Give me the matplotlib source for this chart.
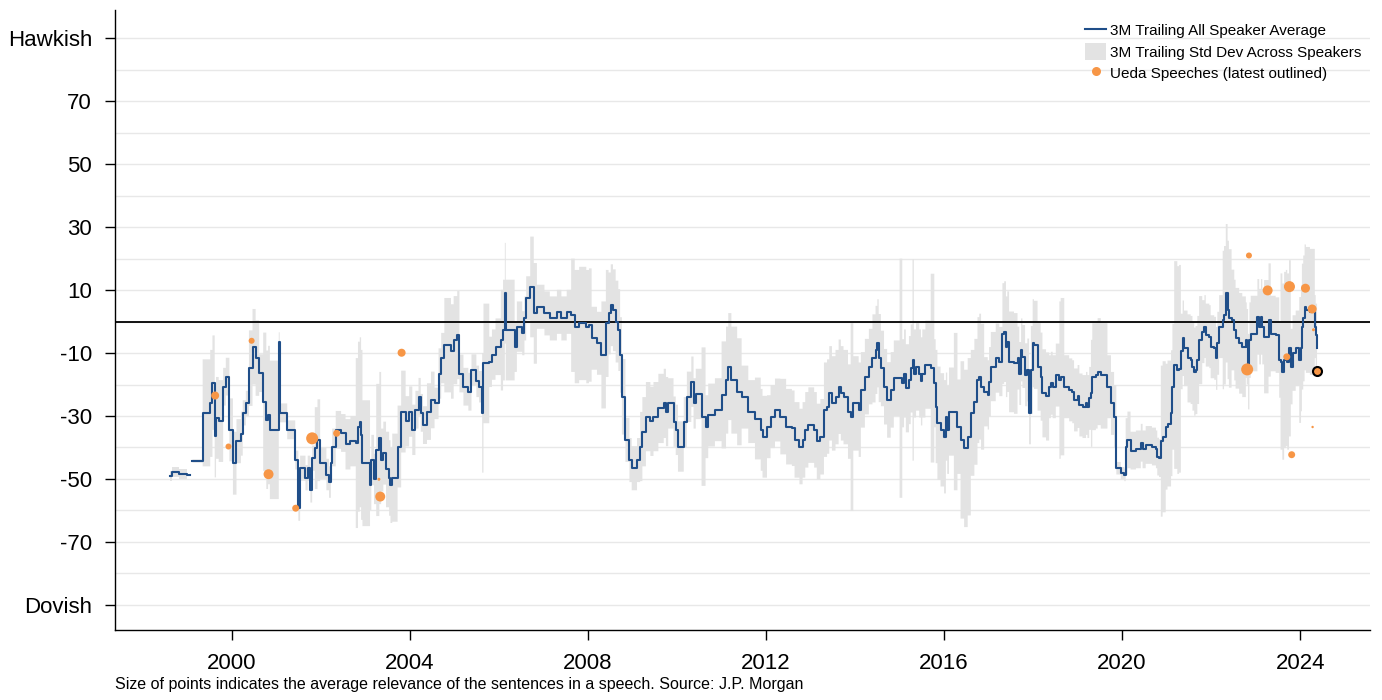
import numpy as np
import matplotlib
matplotlib.use("Agg")
import matplotlib.pyplot as plt
from matplotlib.lines import Line2D
from matplotlib.patches import Patch

# ── Data ────────────────────────────────────────────────────────────────────
# 3M trailing all-speaker average: (decimal year, average score, std dev across speakers)
# a NaN row separates the short 1998 stub from the main series
trailing = [
    (1998.61, -49.0, 1.5), (1998.65, -47.8, 1.5), (1998.80, -48.4, 1.5),
    (1998.90, -48.4, 1.5), (1998.99, -48.7, 1.5), (1999.05, np.nan, np.nan),
    (1999.11, -44.3, 0.5), (1999.34, -29.0, 17), (1999.51, -26.0, 17),
    (1999.56, -19.4, 15), (1999.61, -36.5, 13), (1999.64, -30.6, 13),
    (1999.70, -31.6, 13), (1999.80, -20.7, 6), (1999.86, -17.5, 6),
    (1999.94, -34.4, 10), (2000.02, -45.0, 10), (2000.10, -38.0, 7),
    (2000.20, -35.6, 7), (2000.24, -29.0, 4), (2000.31, -26.0, 4),
    (2000.38, -14.8, 12), (2000.46, -8.0, 12), (2000.53, -11.6, 12),
    (2000.61, -16.4, 6), (2000.70, -25.5, 22), (2000.77, -31.2, 22),
    (2000.81, -29.7, 22), (2000.85, -34.4, 22), (2001.05, -6.4, 3),
    (2001.07, -29.0, 3), (2001.24, -34.4, 3), (2001.42, -44.0, 3),
    (2001.49, -59.3, 4), (2001.53, -46.6, 4), (2001.65, -49.6, 4),
    (2001.70, -46.6, 4), (2001.76, -53.5, 4), (2001.80, -43.4, 4),
    (2001.86, -40.2, 13), (2001.92, -37.7, 13), (2001.98, -45.0, 5),
    (2002.12, -48.6, 5), (2002.18, -51.0, 5), (2002.22, -45.0, 5),
    (2002.25, -40.0, 6), (2002.33, -34.4, 6), (2002.45, -35.4, 6),
    (2002.55, -39.0, 8), (2002.66, -38.0, 8), (2002.78, -38.6, 27),
    (2002.83, -33.4, 27), (2002.87, -32.0, 27), (2002.90, -36.0, 27),
    (2002.93, -45.0, 20), (2003.10, -51.9, 8), (2003.13, -44.0, 8),
    (2003.19, -50.0, 8), (2003.24, -40.8, 21), (2003.31, -37.0, 21),
    (2003.35, -44.0, 10), (2003.40, -41.8, 10), (2003.46, -47.0, 12),
    (2003.53, -49.7, 12), (2003.56, -52.0, 12), (2003.60, -49.6, 14),
    (2003.72, -39.7, 13), (2003.80, -28.6, 13), (2003.90, -31.7, 8),
    (2003.98, -28.6, 8), (2004.05, -34.4, 8), (2004.12, -28.0, 6),
    (2004.19, -23.9, 6), (2004.24, -29.0, 6), (2004.29, -32.9, 6),
    (2004.38, -28.6, 9), (2004.47, -24.9, 9), (2004.55, -26.0, 5),
    (2004.64, -16.5, 8), (2004.70, -11.6, 8), (2004.77, -7.5, 15),
    (2004.92, -9.5, 15), (2004.98, -5.9, 14), (2005.06, -4.3, 14),
    (2005.11, -16.5, 6), (2005.20, -20.7, 6), (2005.31, -22.3, 6),
    (2005.38, -15.4, 5), (2005.49, -19.0, 5), (2005.55, -20.7, 5),
    (2005.62, -29.0, 19), (2005.65, -13.3, 19), (2005.78, -12.8, 8),
    (2005.84, -10.5, 8), (2005.92, -8.0, 9), (2006.04, -5.9, 16),
    (2006.09, -2.7, 16), (2006.13, 9.0, 16), (2006.15, -2.7, 16),
    (2006.35, -8.0, 8), (2006.40, -1.6, 8), (2006.52, -3.7, 7),
    (2006.57, 1.0, 7), (2006.61, 7.4, 7), (2006.70, 11.0, 16),
    (2006.78, 2.6, 16), (2006.85, 4.7, 7), (2007.02, 2.6, 7),
    (2007.14, 1.0, 7), (2007.30, 3.1, 7), (2007.40, 1.0, 7),
    (2007.52, 3.1, 7), (2007.62, 2.0, 18), (2007.70, -1.6, 18),
    (2007.80, -0.6, 18), (2007.96, -1.6, 18), (2008.02, -1.1, 18),
    (2008.08, -5.3, 10), (2008.20, -6.9, 10), (2008.30, -10.6, 17),
    (2008.40, -0.6, 17), (2008.46, 2.6, 13), (2008.51, 5.2, 13),
    (2008.56, 3.6, 13), (2008.62, 0.0, 13), (2008.68, -2.7, 13),
    (2008.72, -10.6, 12), (2008.76, -23.9, 12), (2008.84, -37.6, 7),
    (2008.93, -44.0, 7), (2008.98, -46.6, 7), (2009.10, -44.0, 7),
    (2009.17, -39.7, 11), (2009.22, -35.0, 11), (2009.30, -30.2, 11),
    (2009.40, -31.7, 11), (2009.47, -30.2, 11), (2009.58, -27.6, 11),
    (2009.70, -26.0, 11), (2009.75, -28.6, 11), (2009.80, -26.0, 8),
    (2009.92, -31.8, 8), (2009.97, -34.4, 8), (2010.02, -39.7, 8),
    (2010.15, -32.0, 8), (2010.22, -23.9, 8), (2010.32, -19.1, 8),
    (2010.37, -26.0, 8), (2010.42, -23.0, 8), (2010.55, -30.2, 22),
    (2010.64, -33.4, 10), (2010.70, -29.7, 10), (2010.85, -28.0, 10),
    (2011.00, -23.3, 17), (2011.10, -18.6, 17), (2011.15, -14.3, 17),
    (2011.22, -18.6, 17), (2011.35, -22.3, 17), (2011.45, -24.0, 10),
    (2011.60, -28.6, 10), (2011.75, -30.8, 13), (2011.88, -34.4, 13),
    (2011.92, -36.6, 13), (2012.02, -33.4, 10), (2012.10, -30.2, 10),
    (2012.20, -28.1, 10), (2012.32, -30.2, 12), (2012.45, -33.4, 12),
    (2012.58, -33.9, 12), (2012.64, -37.6, 12), (2012.75, -39.7, 12),
    (2012.82, -37.6, 12), (2012.88, -34.4, 12), (2012.95, -32.9, 12),
    (2013.08, -34.4, 12), (2013.14, -38.1, 12), (2013.22, -36.6, 12),
    (2013.30, -28.0, 15), (2013.37, -27.0, 15), (2013.42, -22.8, 15),
    (2013.48, -26.0, 15), (2013.56, -24.0, 15), (2013.63, -20.7, 15),
    (2013.68, -22.8, 15), (2013.74, -24.0, 15), (2013.84, -28.6, 15),
    (2013.90, -30.2, 30), (2013.96, -26.0, 15), (2014.08, -28.0, 15),
    (2014.13, -21.7, 12), (2014.22, -17.5, 12), (2014.31, -14.3, 12),
    (2014.39, -11.7, 14), (2014.46, -9.0, 14), (2014.50, -6.9, 14),
    (2014.53, -11.6, 14), (2014.58, -14.9, 12), (2014.65, -20.7, 12),
    (2014.72, -24.9, 12), (2014.80, -21.7, 12), (2014.87, -18.0, 12),
    (2015.00, -18.0, 38), (2015.06, -19.6, 14), (2015.10, -16.5, 14),
    (2015.14, -21.2, 14), (2015.21, -18.6, 14), (2015.25, -14.9, 14),
    (2015.29, -12.2, 32), (2015.32, -16.5, 14), (2015.37, -14.3, 14),
    (2015.44, -16.5, 14), (2015.48, -19.0, 14), (2015.51, -16.5, 14),
    (2015.58, -13.7, 14), (2015.70, -14.8, 30), (2015.78, -19.6, 14),
    (2015.81, -27.0, 18), (2015.85, -32.3, 18), (2015.92, -34.4, 18),
    (2016.00, -36.6, 18), (2016.04, -30.2, 14), (2016.07, -34.4, 14),
    (2016.11, -28.6, 14), (2016.22, -28.6, 25), (2016.30, -33.4, 15),
    (2016.37, -37.6, 25), (2016.45, -40.3, 25), (2016.53, -36.6, 25),
    (2016.60, -29.0, 20), (2016.68, -25.5, 20), (2016.75, -18.6, 20),
    (2016.79, -17.5, 20), (2016.83, -20.7, 20), (2016.90, -22.3, 11),
    (2016.98, -23.3, 11), (2017.01, -19.1, 11), (2017.05, -14.3, 11),
    (2017.16, -11.6, 11), (2017.24, -12.7, 11), (2017.31, -3.8, 16),
    (2017.35, -3.2, 16), (2017.39, -8.0, 16), (2017.42, -6.4, 16),
    (2017.46, -12.8, 16), (2017.57, -13.3, 16), (2017.65, -11.6, 10),
    (2017.69, -16.5, 10), (2017.73, -9.0, 10), (2017.76, -11.1, 10),
    (2017.82, -16.9, 10), (2017.87, -15.4, 10), (2017.91, -29.0, 10),
    (2017.95, -15.4, 14), (2017.99, -6.9, 14), (2018.02, -7.4, 14),
    (2018.10, -14.3, 14), (2018.17, -17.5, 14), (2018.21, -22.8, 14),
    (2018.29, -23.8, 14), (2018.36, -20.7, 10), (2018.40, -19.6, 10),
    (2018.44, -20.7, 10), (2018.51, -17.0, 10), (2018.59, -18.6, 25),
    (2018.62, -17.5, 25), (2018.70, -20.7, 10), (2018.81, -21.7, 10),
    (2018.88, -22.3, 10), (2018.92, -24.9, 10), (2019.00, -23.8, 10),
    (2019.04, -26.5, 10), (2019.11, -27.0, 10), (2019.19, -26.0, 10),
    (2019.22, -27.0, 10), (2019.26, -24.4, 10), (2019.30, -22.8, 17),
    (2019.33, -17.5, 17), (2019.41, -17.0, 17), (2019.45, -15.9, 17),
    (2019.52, -17.0, 17), (2019.60, -17.0, 17), (2019.67, -20.7, 10),
    (2019.75, -26.0, 10), (2019.82, -30.2, 10), (2019.87, -46.6, 2),
    (2019.97, -48.2, 2), (2020.05, -48.7, 2), (2020.08, -39.7, 9),
    (2020.12, -37.6, 9), (2020.19, -41.0, 6), (2020.31, -40.6, 6),
    (2020.42, -38.5, 6), (2020.46, -40.6, 6), (2020.53, -39.2, 6),
    (2020.67, -39.7, 6), (2020.76, -40.6, 6), (2020.79, -42.9, 6),
    (2020.83, -43.4, 6), (2020.87, -38.0, 24), (2020.91, -36.6, 24),
    (2020.98, -33.4, 20), (2021.02, -32.4, 20), (2021.10, -29.1, 20),
    (2021.13, -20.7, 20), (2021.17, -13.8, 33), (2021.24, -15.4, 33),
    (2021.28, -15.0, 33), (2021.32, -9.5, 12), (2021.36, -5.3, 12),
    (2021.39, -8.5, 12), (2021.47, -11.7, 14), (2021.54, -12.2, 14),
    (2021.58, -14.3, 14), (2021.62, -15.9, 14), (2021.65, -15.4, 14),
    (2021.69, -12.2, 14), (2021.73, -5.9, 14), (2021.80, -3.2, 10),
    (2021.85, -1.6, 10), (2021.88, -4.3, 10), (2021.96, -4.8, 10),
    (2021.99, -8.0, 10), (2022.07, -8.5, 10), (2022.11, -11.7, 10),
    (2022.14, -6.9, 10), (2022.18, -1.6, 10), (2022.26, 0.5, 22),
    (2022.29, 2.0, 22), (2022.33, 9.0, 22), (2022.37, 3.7, 22),
    (2022.40, 1.0, 22), (2022.46, 0.5, 16), (2022.52, -2.7, 16),
    (2022.55, -5.3, 16), (2022.63, -6.9, 16), (2022.70, -8.0, 16),
    (2022.78, -5.9, 12), (2022.80, -8.0, 12), (2022.83, -15.9, 12),
    (2022.86, -5.9, 12), (2022.89, -3.8, 12), (2023.00, -3.8, 12),
    (2023.04, 1.5, 12), (2023.08, -1.6, 12), (2023.12, 1.5, 12),
    (2023.15, -1.6, 12), (2023.19, -4.8, 18), (2023.27, -4.8, 18),
    (2023.29, 0.5, 18), (2023.34, -3.8, 12), (2023.45, -4.3, 12),
    (2023.53, -12.2, 12), (2023.56, -12.7, 28), (2023.60, -15.9, 28),
    (2023.64, -12.2, 28), (2023.68, -11.6, 28), (2023.71, -12.7, 28),
    (2023.75, -8.5, 28), (2023.79, -14.3, 12), (2023.83, -10.0, 12),
    (2023.90, -8.5, 12), (2023.98, -12.2, 20), (2024.02, -8.5, 20),
    (2024.04, -1.6, 20), (2024.07, 1.0, 20), (2024.10, 4.5, 20),
    (2024.13, 3.7, 20), (2024.22, 3.1, 20), (2024.29, 3.1, 20),
    (2024.33, -1.6, 10), (2024.35, -4.3, 10), (2024.38, -8.5, 10),
]
years   = np.array([r[0] for r in trailing])
avg     = np.array([r[1] for r in trailing])
std_dev = np.array([r[2] for r in trailing])

# Ueda speeches: date, score, relevance (0..1, drives dot size)
ueda_year      = [1999.62, 1999.92, 2000.44, 2000.82, 2001.43, 2001.80, 2002.35,
                  2003.30, 2003.33, 2003.81, 2022.81, 2022.85, 2023.27, 2023.70,
                  2023.76, 2023.81, 2024.12, 2024.27, 2024.28, 2024.30, 2024.37]
ueda_score     = [-23.5, -39.7, -6.1, -48.5, -59.3, -37.1, -35.5,
                  -50.1, -55.6, -9.9, -15.2, 21.0, 9.9, -11.2,
                  11.1, -42.3, 10.6, 4.0, -33.5, -2.6, -15.8]
ueda_relevance = [0.67, 0.50, 0.50, 0.83, 0.58, 1.00, 0.58,
                  0.25, 0.83, 0.67, 1.00, 0.50, 0.83, 0.58,
                  0.92, 0.58, 0.75, 0.75, 0.20, 0.25, 0.75]

ytick_vals   = [90, 70, 50, 30, 10, -10, -30, -50, -70, -90]
ytick_labels = ["Hawkish", "70", "50", "30", "10", "-10", "-30", "-50", "-70", "Dovish"]
xtick_vals   = [2000, 2004, 2008, 2012, 2016, 2020, 2024]

# ── Style ───────────────────────────────────────────────────────────────────
BLUE   = "#1F4E89"
GREY   = "#E3E3E3"
ORANGE = "#F79646"
FONT   = ["Liberation Sans", "DejaVu Sans"]

fig = plt.figure(figsize=(13.82, 7.0), dpi=100)
ax = fig.add_axes([115 / 1382, 70 / 700, 1255 / 1382, 620 / 700])

ax.fill_between(years, avg - std_dev, avg + std_dev, step="post",
                color=GREY, linewidth=0, zorder=1)
ax.axhline(0, color="black", lw=1.3, zorder=2)
ax.plot(years, avg, drawstyle="steps-post", color=BLUE, lw=1.5, zorder=3)

sizes = [(r * 12 * 0.72) ** 2 for r in ueda_relevance]
ax.scatter(ueda_year[:-1], ueda_score[:-1], s=sizes[:-1], color=ORANGE,
           linewidths=0, zorder=4)
ax.scatter(ueda_year[-1:], ueda_score[-1:], s=sizes[-1:], color=ORANGE,
           edgecolors="black", linewidths=1.5, zorder=5)

# axes
ax.set_xlim(1997.37, 2025.57)
ax.set_ylim(-98, 99)
ax.set_yticks(ytick_vals)
ax.set_yticklabels(ytick_labels)
ax.set_yticks(np.arange(-90, 91, 10), minor=True)
ax.set_xticks(xtick_vals)
ax.set_xticklabels([str(v) for v in xtick_vals])
ax.grid(axis="y", which="both", color="#E8E8E8", lw=1.0, zorder=0)
ax.set_axisbelow(True)
ax.tick_params(axis="y", which="minor", length=0)
ax.tick_params(axis="both", which="major", length=7.5, width=1.0, color="black",
               labelsize=16)
ax.tick_params(axis="y", which="major", pad=9)
ax.tick_params(axis="x", which="major", pad=9)
for lab in ax.get_xticklabels() + ax.get_yticklabels():
    lab.set_family(FONT)
for side in ("top", "right"):
    ax.spines[side].set_visible(False)
for side in ("left", "bottom"):
    ax.spines[side].set_linewidth(1.0)

# legend
handles = [
    Line2D([], [], color=BLUE, lw=1.5),
    Patch(facecolor=GREY, edgecolor="none"),
    Line2D([], [], marker="o", ls="none", color=ORANGE, markersize=6.5,
           markeredgewidth=0),
]
labels = ["3M Trailing All Speaker Average",
          "3M Trailing Std Dev Across Speakers",
          "Ueda Speeches (latest outlined)"]
ax.legend(handles, labels, loc="upper left", frameon=False,
          bbox_to_anchor=(1085 / 1382, 1 - 22 / 700),
          bbox_transform=fig.transFigure, borderpad=0, borderaxespad=0,
          handlelength=1.4, handleheight=1.3, handletextpad=0.25,
          labelspacing=0.3, prop={"family": FONT, "size": 11})

fig.text(115 / 1382, 1 - 689 / 700,
         "Size of points indicates the average relevance of the sentences in a speech. "
         "Source: J.P. Morgan",
         ha="left", va="baseline", fontsize=11.5, family=FONT)

fig.savefig("out.png", dpi=100)
